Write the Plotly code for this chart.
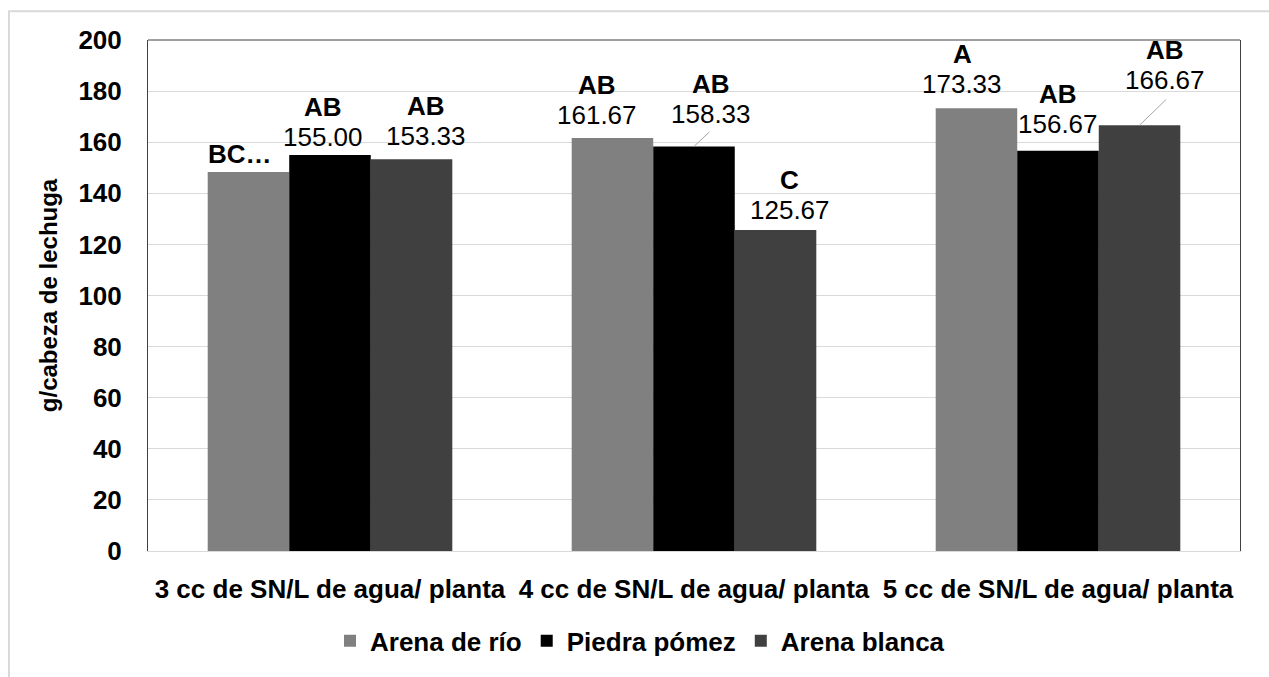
import plotly.graph_objects as go

# Dosis de solución nutritiva por planta
categorias = [
    "3 cc de SN/L de agua/ planta",
    "4 cc de SN/L de agua/ planta",
    "5 cc de SN/L de agua/ planta",
]

# Peso fresco (g/cabeza) por sustrato
arena_rio = [148.33, 161.67, 173.33]
piedra_pomez = [155.00, 158.33, 156.67]
arena_blanca = [153.33, 125.67, 166.67]

# Letras de significancia (Tukey)
letras_arena_rio = ["BC…", "AB", "A"]
letras_piedra_pomez = ["AB", "AB", "AB"]
letras_arena_blanca = ["AB", "C", "AB"]

series = [
    ("Arena de río", arena_rio, letras_arena_rio, "#808080"),
    ("Piedra pómez", piedra_pomez, letras_piedra_pomez, "#000000"),
    ("Arena blanca", arena_blanca, letras_arena_blanca, "#404040"),
]

# Geometry of the plotting area (pixels)
W, H = 1269, 677
ML, MR, MT, MB = 148, 29, 40, 120
plot_w = W - ML - MR
plot_h = H - MT - MB
BARGAP = 0.328
bar_w = plot_w / len(categorias) * (1 - BARGAP) / len(series)

# Label block centre relative to the top centre of each bar: (dx, dy)
label_offsets = {
    (0, 0): (-8, -18), (1, 0): (-7, -33), (2, 0): (14, -38),
    (0, 1): (-15, -38), (1, 1): (17, -47), (2, 1): (14, -35),
    (0, 2): (-14, -39), (1, 2): (0, -42), (2, 2): (25, -60),
}
# Leader lines for labels moved away from their bar: start point of the line
leader_tails = {(1, 1): (17, -16), (2, 2): (28, -27)}
HALF_LINE = 15  # half the distance between the letter line and the value line

FONT = "Liberation Sans, Arial, sans-serif"
INK = "#000000"
LABEL_SIZE = 26

fig = go.Figure()
for name, vals, _, color in series:
    fig.add_trace(go.Bar(
        name=name, x=categorias, y=vals,
        marker=dict(color=color, line=dict(width=0)),
    ))

annotations = []
for i, (name, vals, letras, _) in enumerate(series):
    for j, (cat, v, l) in enumerate(zip(categorias, vals, letras)):
        dx, dy = label_offsets[(i, j)]
        xs = (i - 1) * bar_w
        truncated = l.endswith("…")
        # significance letter
        annotations.append(dict(
            x=cat, y=v, xref="x", yref="y", text=f"<b>{l}</b>",
            font=dict(family=FONT, size=LABEL_SIZE, color=INK),
            showarrow=False, xanchor="center", yanchor="middle",
            xshift=xs + dx, yshift=-dy if truncated else -(dy - HALF_LINE),
        ))
        if truncated:
            continue
        # mean value
        annotations.append(dict(
            x=cat, y=v, xref="x", yref="y", text=f"{v:.2f}",
            font=dict(family=FONT, size=LABEL_SIZE, color=INK),
            showarrow=False, xanchor="center", yanchor="middle",
            xshift=xs + dx, yshift=-(dy + HALF_LINE),
        ))
        if (i, j) in leader_tails:
            tx, ty = leader_tails[(i, j)]
            annotations.append(dict(
                x=cat, y=v, xref="x", yref="y", text=" ",
                font=dict(size=1), xshift=xs,
                showarrow=True, arrowhead=0, arrowwidth=1, arrowcolor="#a6a6a6",
                ax=tx, ay=ty, axref="pixel", ayref="pixel",
            ))

fig.update_layout(
    width=W, height=H,
    margin=dict(l=ML, r=MR, t=MT, b=MB, pad=0),
    paper_bgcolor="white", plot_bgcolor="white",
    barmode="group", bargap=BARGAP, bargroupgap=0,
    font=dict(family=FONT, color=INK),
    showlegend=True,
    legend=dict(
        orientation="h", x=(640 - ML) / plot_w, xanchor="center",
        y=(MT + plot_h - 648) / plot_h, yanchor="middle",
        font=dict(family=FONT, size=26, color=INK, weight="bold"),
        itemclick=False, bgcolor="rgba(0,0,0,0)", itemwidth=30,
    ),
    annotations=annotations,
    shapes=[
        # outer chart frame
        dict(type="rect", xref="paper", yref="paper",
             x0=(9 - ML) / plot_w, x1=1.3,
             y0=-0.5, y1=(MT + plot_h - 11) / plot_h,
             line=dict(color="#d9d9d9", width=2), layer="below"),
        # top edge of the plotting area
        dict(type="line", xref="paper", yref="paper", x0=0, x1=1, y0=1, y1=1,
             line=dict(color="#404040", width=1)),
    ],
)

fig.update_xaxes(
    showgrid=False, showline=True, linecolor="#d9d9d9", linewidth=1,
    ticks="", tickangle=0, ticklabelstandoff=15,
    tickfont=dict(family=FONT, size=26, color=INK, weight="bold"),
)
fig.update_yaxes(
    range=[0, 200], dtick=20, showgrid=True, gridcolor="#d9d9d9", gridwidth=1,
    zeroline=False, showline=True, mirror=True, linecolor="#404040", linewidth=1,
    ticks="", ticklabelstandoff=20,
    tickfont=dict(family=FONT, size=26, color=INK, weight="bold"),
    title=dict(text="g/cabeza de lechuga", standoff=14,
               font=dict(family=FONT, size=24, color=INK, weight="bold")),
)

fig.write_html("out.html")
